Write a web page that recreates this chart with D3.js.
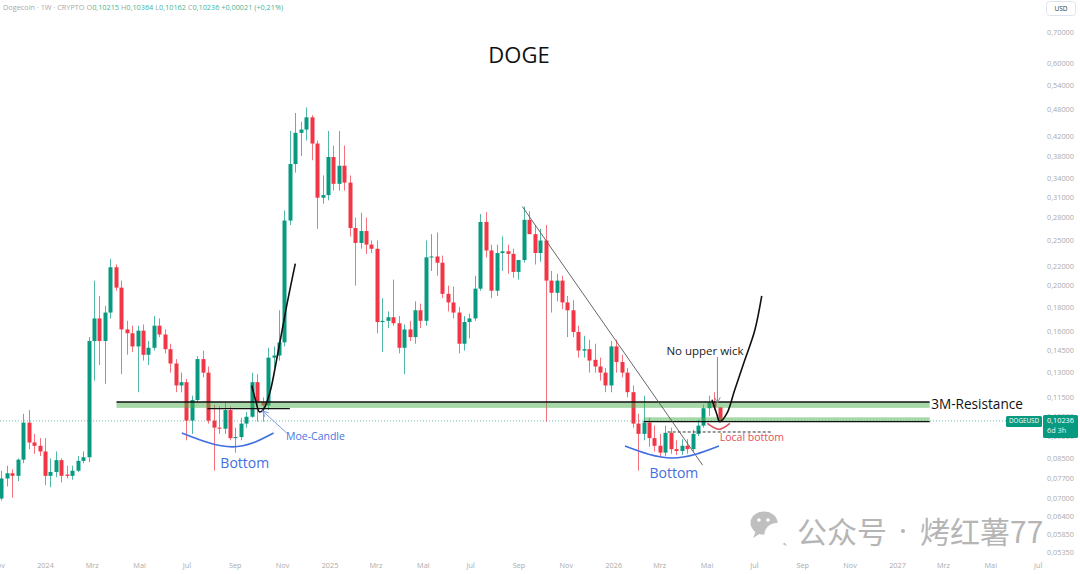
<!DOCTYPE html>
<html><head><meta charset="utf-8">
<script src="https://cdn.jsdelivr.net/npm/d3@7"></script>
<style>html,body{margin:0;padding:0;background:#fff;overflow:hidden}svg{display:block}</style>
</head><body>
<svg id="c" width="1080" height="574"></svg>
<script>
// ---------- DATA ----------
const weekStart = "2023-11-06"; // first weekly candle
const opens = [0.0697,0.0770,0.0790,0.0780,0.0845,0.1015,0.0920,0.0905,0.0880,0.0780,0.0795,0.0843,0.0785,0.0780,0.0800,0.0840,0.0855,0.1520,0.1700,0.1520,0.1750,0.2190,0.1980,0.1610,0.1580,0.1480,0.1600,0.1420,0.1470,0.1640,0.1570,0.1460,0.1360,0.1220,0.1240,0.1025,0.1135,0.1390,0.1300,0.1025,0.0990,0.0985,0.1080,0.0940,0.0945,0.1010,0.1045,0.1240,0.1125,0.1105,0.1400,0.1415,0.1510,0.2760,0.3650,0.4260,0.4330,0.4600,0.4040,0.3090,0.3130,0.3780,0.3310,0.3620,0.3330,0.2660,0.2470,0.2620,0.2450,0.2400,0.1670,0.1680,0.1710,0.1660,0.1470,0.1610,0.1550,0.1770,0.1680,0.2300,0.2310,0.2240,0.1920,0.1840,0.1750,0.1500,0.1670,0.1700,0.1970,0.2740,0.2380,0.1950,0.2350,0.2370,0.2340,0.2140,0.2270,0.2770,0.2580,0.2350,0.2500,0.2050,0.1930,0.2050,0.1840,0.1770,0.1590,0.1450,0.1460,0.1385,0.1340,0.1300,0.1220,0.1480,0.1370,0.1300,0.1180,0.1010,0.0960,0.1015,0.0940,0.0905,0.0875,0.0965,0.0890,0.0882,0.0905,0.0890,0.0960,0.1000,0.1090,0.1120,0.1095];
const highs = [0.0800,0.0820,0.0805,0.0850,0.1060,0.1080,0.0960,0.0940,0.0940,0.0850,0.0880,0.0850,0.0820,0.0820,0.0860,0.0880,0.1550,0.2050,0.1900,0.1810,0.2280,0.2220,0.2050,0.1680,0.1640,0.1640,0.1650,0.1520,0.1720,0.1700,0.1610,0.1500,0.1390,0.1300,0.1260,0.1160,0.1410,0.1450,0.1340,0.1110,0.1100,0.1120,0.1100,0.0990,0.1040,0.1070,0.1300,0.1290,0.1150,0.1470,0.1480,0.1770,0.2900,0.4300,0.4700,0.4500,0.4830,0.4650,0.4100,0.3450,0.4300,0.4000,0.4300,0.4000,0.3450,0.2800,0.2870,0.2800,0.2500,0.2500,0.1880,0.1760,0.2060,0.1720,0.1650,0.1680,0.1850,0.1830,0.2500,0.2580,0.2600,0.2320,0.2000,0.1990,0.1800,0.1720,0.1740,0.2100,0.2850,0.2880,0.2450,0.2450,0.2550,0.2450,0.2400,0.2250,0.2958,0.2890,0.2700,0.2650,0.2700,0.2150,0.2120,0.2100,0.1900,0.1860,0.1640,0.1560,0.1530,0.1500,0.1400,0.1330,0.1520,0.1530,0.1420,0.1330,0.1220,0.1060,0.1160,0.1040,0.1000,0.0960,0.1000,0.0990,0.0930,0.0935,0.0935,0.0980,0.1030,0.1110,0.1160,0.1180,0.1095];
const lows = [0.0690,0.0740,0.0700,0.0760,0.0830,0.0890,0.0870,0.0860,0.0745,0.0737,0.0775,0.0755,0.0770,0.0765,0.0795,0.0830,0.0835,0.1250,0.1350,0.1230,0.1700,0.1950,0.1290,0.1420,0.1440,0.1180,0.1380,0.1350,0.1450,0.1550,0.1430,0.1300,0.1180,0.1180,0.0930,0.0960,0.1120,0.1270,0.1010,0.0800,0.0960,0.0960,0.0930,0.0875,0.0930,0.0990,0.1040,0.1020,0.1020,0.1080,0.1330,0.1380,0.1480,0.2700,0.3500,0.3800,0.4100,0.3720,0.2650,0.3000,0.3050,0.3200,0.3200,0.3200,0.2550,0.2000,0.2400,0.2340,0.2350,0.1580,0.1440,0.1620,0.1640,0.1430,0.1290,0.1520,0.1500,0.1620,0.1640,0.2150,0.2100,0.1880,0.1760,0.1700,0.1430,0.1450,0.1540,0.1680,0.1950,0.2300,0.1880,0.1900,0.2150,0.2120,0.2080,0.2060,0.2240,0.2580,0.2220,0.2250,0.1020,0.1750,0.1850,0.1780,0.1550,0.1550,0.1400,0.1400,0.1300,0.1300,0.1250,0.1180,0.1180,0.1300,0.1270,0.1150,0.0990,0.0800,0.0930,0.0900,0.0880,0.0860,0.0860,0.0870,0.0865,0.0865,0.0870,0.0880,0.0950,0.0990,0.1050,0.1080,0.1016];
const closes = [0.0770,0.0790,0.0780,0.0845,0.1015,0.0920,0.0905,0.0880,0.0780,0.0795,0.0843,0.0780,0.0780,0.0800,0.0840,0.0855,0.1520,0.1700,0.1520,0.1750,0.2190,0.1980,0.1610,0.1580,0.1480,0.1600,0.1420,0.1470,0.1640,0.1570,0.1460,0.1360,0.1220,0.1240,0.1025,0.1135,0.1390,0.1300,0.1025,0.0990,0.0985,0.1080,0.0940,0.0945,0.1010,0.1045,0.1240,0.1120,0.1105,0.1400,0.1415,0.1510,0.2760,0.3650,0.4260,0.4330,0.4600,0.4040,0.3090,0.3130,0.3780,0.3310,0.3620,0.3330,0.2660,0.2470,0.2620,0.2450,0.2400,0.1670,0.1680,0.1710,0.1660,0.1470,0.1610,0.1550,0.1770,0.1680,0.2300,0.2310,0.2240,0.1920,0.1840,0.1750,0.1500,0.1670,0.1700,0.1970,0.2740,0.2380,0.1950,0.2350,0.2370,0.2340,0.2140,0.2270,0.2770,0.2580,0.2350,0.2500,0.2050,0.1930,0.2050,0.1840,0.1770,0.1590,0.1450,0.1460,0.1380,0.1340,0.1300,0.1220,0.1480,0.1370,0.1300,0.1180,0.1010,0.0960,0.1015,0.0940,0.0905,0.0875,0.0965,0.0890,0.0882,0.0905,0.0890,0.0960,0.1000,0.1090,0.1120,0.1095,0.10236];

const priceTicks = [0.70,0.60,0.54,0.48,0.42,0.38,0.34,0.31,0.28,0.25,0.22,0.20,0.18,0.16,0.145,0.13,0.115,0.105,0.095,0.085,0.077,0.070,0.064,0.0585,0.0535];
const timeTicks = ["2023-11-01","2024-01-01","2024-03-01","2024-05-01","2024-07-01","2024-09-01","2024-11-01","2025-01-01","2025-03-01","2025-05-01","2025-07-01","2025-09-01","2025-11-01","2026-01-01","2026-03-01","2026-05-01","2026-07-01","2026-09-01","2026-11-01","2027-01-01","2027-03-01","2027-05-01","2027-07-01"];
const timeTickLabels = ["Nov","2024","Mrz","Mai","Jul","Sep","Nov","2025","Mrz","Mai","Jul","Sep","Nov","2026","Mrz","Mai","Jul","Sep","Nov","2027","Mrz","Mai","Jul"];

const lastPrice = 0.10236;
const headerValues = {O:"0,10215", H:"0,10364", L:"0,10162", C:"0,10236", chg:"+0,00021 (+0,21%)"};

// annotation levels (price) and spans (dates)
const resistanceLine = 0.1124, resistanceBandLow = 0.1092, resistanceSpan = ["2024-04-02","2027-02-12"];
const moeLevel = 0.1088, moeSpan = ["2024-07-28","2024-11-11"];
const supportLine = 0.1020, supportBandHigh = 0.1042, supportSpan = ["2026-02-09","2027-02-12"];
const localBottomLevel = 0.0969, localBottomSpan = ["2026-03-12","2026-07-25"];
const trendLine = [["2025-09-06",0.2958],["2026-04-26",0.0822]];
const curve1 = [["2024-09-23",0.1220],["2024-09-28",0.1132],["2024-10-03",0.1070],["2024-10-08",0.1083],["2024-10-16",0.1173],["2024-10-26",0.1415],["2024-11-07",0.1814],["2024-11-18",0.2230]];
const curve2 = [["2026-05-08",0.1136],["2026-05-14",0.1061],["2026-05-18",0.1020],["2026-05-27",0.1061],["2026-06-06",0.1190],["2026-06-19",0.1380],["2026-07-02",0.1601],["2026-07-11",0.1900]];
const bottomArc1 = [["2024-06-25",0.0964],["2024-08-29",0.0900],["2024-10-21",0.0964]];
const bottomArc2 = [["2026-01-16",0.0904],["2026-03-18",0.0852],["2026-05-17",0.0904]];
const localArc = [["2026-05-02",0.1011],["2026-05-17",0.0982],["2026-05-31",0.1011]];
const wickArrow = [["2026-05-15",0.1405],["2026-05-15",0.1119]];
const moeArrow = [["2024-11-07",0.0964],["2024-10-07",0.1075]];
const labels = [
  {t:"Bottom", d:"2024-09-14", p:0.0811, c:"#3f6fe0", s:14, a:"middle"},
  {t:"Moe-Candle", d:"2024-11-06", p:0.0932, c:"#4a74e0", s:10.5, a:"start"},
  {t:"Bottom", d:"2026-03-20", p:0.0771, c:"#3f6fe0", s:14, a:"middle"},
  {t:"No upper wick", d:"2026-04-29", p:0.1419, c:"#222", s:11.5, a:"middle"},
  {t:"Local bottom", d:"2026-05-18", p:0.0927, c:"#e0505e", s:10.5, a:"start"},
  {t:"3M-Resistance", d:"2027-02-14", p:0.1086, c:"#111", s:13.6, a:"start"}
];

// ---------- CHART ----------
const plotR = 1040, plotB = 556;
const UP = "#089981", DOWN = "#f23645";
const FONT = "'Open Sans', 'Noto Sans', sans-serif";
const parse = d3.utcParse("%Y-%m-%d");
const svg = d3.select("#c");

const x = d3.scaleUtc().domain([parse("2024-01-01"), parse("2027-01-01")]).range([45, 897]);
const y = d3.scaleLog().domain([0.7, 0.0535]).range([32.5, 552]);

const t0 = parse(weekStart);
const candles = opens.map((o,i)=>({date:d3.utcDay.offset(t0, i*7), o, h:highs[i], l:lows[i], c:closes[i]}));

const defs = svg.append("defs");
defs.append("clipPath").attr("id","plot").append("rect").attr("x",0).attr("y",0).attr("width",plotR).attr("height",plotB);
defs.append("marker").attr("id","arrG").attr("viewBox","0 0 10 10").attr("refX",9).attr("refY",5)
  .attr("markerWidth",7).attr("markerHeight",7).attr("orient","auto-start-reverse")
  .append("path").attr("d","M1,1 L9,5 L1,9").attr("fill","none").attr("stroke","#888").attr("stroke-width",1.4);
defs.append("marker").attr("id","arrB").attr("viewBox","0 0 10 10").attr("refX",9).attr("refY",5)
  .attr("markerWidth",7).attr("markerHeight",7).attr("orient","auto-start-reverse")
  .append("path").attr("d","M1,1 L9,5 L1,9").attr("fill","none").attr("stroke","#7c9be8").attr("stroke-width",1.4);

const plot = svg.append("g").attr("clip-path","url(#plot)");

// current price dotted line
plot.append("line").attr("x1",0).attr("x2",plotR).attr("y1",y(lastPrice)).attr("y2",y(lastPrice))
  .attr("stroke",UP).attr("stroke-width",1).attr("stroke-dasharray","1,2").attr("opacity",0.6);

// candles
const cg = plot.append("g");
cg.selectAll("line.w").data(candles).join("line")
  .attr("x1",d=>Math.round(x(d.date))+0.5).attr("x2",d=>Math.round(x(d.date))+0.5)
  .attr("y1",d=>y(d.h)).attr("y2",d=>y(d.l))
  .attr("stroke",d=>d.c>=d.o?UP:DOWN).attr("stroke-width",1).attr("opacity",0.7);
cg.selectAll("rect").data(candles).join("rect")
  .attr("x",d=>Math.round(x(d.date))-1.5).attr("width",4)
  .attr("y",d=>y(Math.max(d.o,d.c))).attr("height",d=>Math.max(1,Math.abs(y(d.o)-y(d.c))))
  .attr("fill",d=>d.c>=d.o?UP:DOWN);

// bands
const xd = s=>x(parse(s));
plot.append("rect").attr("x",xd(resistanceSpan[0])).attr("width",xd(resistanceSpan[1])-xd(resistanceSpan[0]))
  .attr("y",y(resistanceLine)).attr("height",y(resistanceBandLow)-y(resistanceLine)).attr("fill","#4caf50").attr("opacity",0.5);
plot.append("rect").attr("x",xd(supportSpan[0])).attr("width",xd(supportSpan[1])-xd(supportSpan[0]))
  .attr("y",y(supportBandHigh)).attr("height",y(supportLine)-y(supportBandHigh)).attr("fill","#4caf50").attr("opacity",0.5);

const hline = (p, span, opts={}) => plot.append("line")
  .attr("x1",xd(span[0])).attr("x2",xd(span[1])).attr("y1",y(p)).attr("y2",y(p))
  .attr("stroke",opts.c||"#111").attr("stroke-width",opts.w||1.3).attr("stroke-dasharray",opts.dash||null);
hline(resistanceLine, resistanceSpan);
hline(moeLevel, moeSpan);
hline(supportLine, supportSpan);
hline(localBottomLevel, localBottomSpan, {c:"#333", w:1, dash:"3,2"});

const pt = d=>[x(parse(d[0])), y(d[1])];
function path(pts, curve){ return d3.line().curve(curve)(pts.map(pt)); }

plot.append("path").attr("d",path(trendLine,d3.curveLinear)).attr("fill","none").attr("stroke","#555").attr("stroke-width",0.9);
plot.append("path").attr("d",path(curve1,d3.curveCatmullRom)).attr("fill","none").attr("stroke","#111").attr("stroke-width",1.6);
plot.append("path").attr("d",path(curve2,d3.curveCatmullRom)).attr("fill","none").attr("stroke","#111").attr("stroke-width",1.6);
plot.append("path").attr("d",path(bottomArc1,d3.curveNatural)).attr("fill","none").attr("stroke","#3f6fe0").attr("stroke-width",1.6);
plot.append("path").attr("d",path(bottomArc2,d3.curveNatural)).attr("fill","none").attr("stroke","#3f6fe0").attr("stroke-width",1.6);
plot.append("path").attr("d",path(localArc,d3.curveNatural)).attr("fill","none").attr("stroke","#e0505e").attr("stroke-width",1.6);
plot.append("path").attr("d",path(wickArrow,d3.curveLinear)).attr("fill","none").attr("stroke","#888").attr("stroke-width",1).attr("marker-end","url(#arrG)");
plot.append("path").attr("d",path(moeArrow,d3.curveLinear)).attr("fill","none").attr("stroke","#7c9be8").attr("stroke-width",1).attr("marker-end","url(#arrB)");

plot.selectAll("text.lab").data(labels).join("text").attr("class","lab")
  .attr("x",d=>xd(d.d)).attr("y",d=>y(d.p)).attr("text-anchor",d=>d.a)
  .attr("font-family",FONT).attr("font-size",d=>d.s).attr("fill",d=>d.c).text(d=>d.t);

// title
svg.append("text").attr("x",519).attr("y",63).attr("text-anchor","middle").attr("font-family",FONT)
  .attr("font-size",22).attr("fill","#111").text("DOGE");

// header
const hdr = svg.append("text").attr("x",3).attr("y",10).attr("font-family",FONT).attr("font-size",7.3).attr("fill","#a8a8a8");
hdr.append("tspan").text("Dogecoin · 1W · CRYPTO  ");
["O","H","L","C"].forEach(k=>{
  hdr.append("tspan").attr("fill","#a8a8a8").text(" "+k);
  hdr.append("tspan").attr("fill","#3fb59a").text(headerValues[k]+" ");
});
hdr.append("tspan").attr("fill","#3fb59a").text(" "+headerValues.chg);

// axes
const fmt = v => d3.format(".5f")(v).replace(".", ",");
const ya = svg.append("g").attr("transform",`translate(1045,0)`)
  .call(d3.axisRight(y).tickValues(priceTicks).tickFormat(fmt).tickSize(0).tickPadding(2));
ya.select(".domain").remove();
ya.selectAll("text").attr("font-family",FONT).attr("font-size",7.3).attr("fill","#ababab");

const xa = svg.append("g").attr("transform",`translate(0,561)`)
  .call(d3.axisBottom(x).tickValues(timeTicks.map(parse)).tickFormat((d,i)=>timeTickLabels[i]).tickSize(0).tickPadding(2));
xa.select(".domain").remove();
xa.selectAll("text").attr("font-family",FONT).attr("font-size",7.3).attr("fill","#ababab");

// USD box
svg.append("rect").attr("x",1046.5).attr("y",1.5).attr("width",29).attr("height",14).attr("rx",3)
  .attr("fill","#fff").attr("stroke","#e0e3eb");
svg.append("text").attr("x",1061).attr("y",11).attr("text-anchor","middle").attr("font-family",FONT)
  .attr("font-size",6.5).attr("fill","#333").text("USD");

// last price labels
const yp = y(lastPrice);
svg.append("rect").attr("x",1006).attr("y",yp-5).attr("width",36).attr("height",11).attr("rx",1.5).attr("fill",UP);
svg.append("text").attr("x",1024).attr("y",yp+2.5).attr("text-anchor","middle").attr("font-family",FONT)
  .attr("font-size",6.3).attr("fill","#fff").text("DOGEUSD");
svg.append("rect").attr("x",1043).attr("y",yp-6).attr("width",35).attr("height",23).attr("rx",1.5).attr("fill",UP);
svg.append("text").attr("x",1047).attr("y",yp+2.5).attr("font-family",FONT).attr("font-size",7.3).attr("fill","#fff").text(fmt(lastPrice));
svg.append("text").attr("x",1047).attr("y",yp+12).attr("font-family",FONT).attr("font-size",7.3).attr("fill","#e8f5f2").text("6d 3h");

// watermark
const wm = svg.append("g").attr("opacity",0.85);
const wc = wm.append("g").attr("fill","#b4b4b4");
wc.append("ellipse").attr("cx",764).attr("cy",523).attr("rx",13.5).attr("ry",11.5);
wc.append("path").attr("d","M756,531 L753,538 L761,533 Z");
wm.append("ellipse").attr("cx",777).attr("cy",534).attr("rx",12.5).attr("ry",11).attr("fill","#fff");
wc.append("ellipse").attr("cx",777).attr("cy",534).attr("rx",11).attr("ry",9.5);
wc.append("path").attr("d","M783,540 L787,546 L778,542 Z");
[[759,520],[768,520]].forEach(p=>wm.append("circle").attr("cx",p[0]).attr("cy",p[1]).attr("r",1.8).attr("fill","#fff"));
[[773,532],[781,532]].forEach(p=>wm.append("circle").attr("cx",p[0]).attr("cy",p[1]).attr("r",1.5).attr("fill","#fff"));
const wmFont = "'Noto Sans CJK SC', sans-serif";
wm.append("text").attr("x",797).attr("y",543).attr("font-family",wmFont).attr("font-size",30).attr("fill","#a9a9a9").text("公众号");
wm.append("circle").attr("cx",903).attr("cy",531).attr("r",2).attr("fill","#a9a9a9");
wm.append("text").attr("x",920).attr("y",543).attr("font-family",wmFont).attr("font-size",30).attr("fill","#a9a9a9").text("烤红薯77");
</script>
</body></html>
